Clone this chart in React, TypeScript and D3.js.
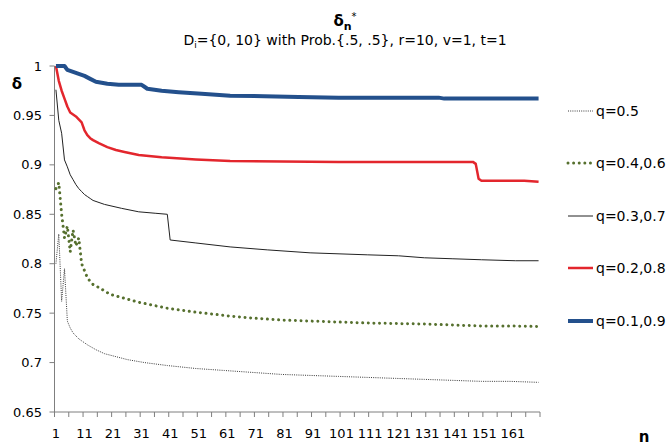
import React from "react";
import * as d3 from "d3";

// ---- data ----
const categoryCount = 170;
const xTickLabels = ["1", "11", "21", "31", "41", "51", "61", "71", "81", "91", "101", "111", "121", "131", "141", "151", "161"];
const yTickValues = [0.65, 0.7, 0.75, 0.8, 0.85, 0.9, 0.95, 1];
const yTickLabels = ["0.65", "0.7", "0.75", "0.8", "0.85", "0.9", "0.95", "1"];
const seriesNames = ["q=0.5", "q=0.4,0.6", "q=0.3,0.7", "q=0.2,0.8", "q=0.1,0.9"];

// q=0.5
const nQ05 = [1, 2, 3, 4, 5, 6, 7, 8, 9, 10, 12, 15, 18, 22, 26, 32, 40, 50, 60, 70, 80, 90, 100, 110, 120, 130, 140, 150, 160, 170];
const vQ05 = [0.8, 0.83, 0.762, 0.795, 0.742, 0.735, 0.73, 0.727, 0.724, 0.722, 0.718, 0.713, 0.709, 0.706, 0.703, 0.7, 0.697, 0.694, 0.692, 0.69, 0.688, 0.687, 0.686, 0.685, 0.684, 0.683, 0.682, 0.681, 0.681, 0.68];
// q=0.4,0.6
const nQ46 = [1, 2, 3, 4, 5, 6, 7, 8, 9, 10, 11, 12, 13, 14, 16, 20, 25, 30, 35, 40, 45, 50, 56, 62, 70, 80, 90, 100, 110, 120, 130, 140, 150, 160, 170];
const vQ46 = [0.876, 0.882, 0.85, 0.826, 0.838, 0.812, 0.834, 0.818, 0.826, 0.8, 0.793, 0.786, 0.782, 0.779, 0.776, 0.769, 0.765, 0.761, 0.758, 0.755, 0.753, 0.751, 0.749, 0.747, 0.745, 0.743, 0.742, 0.741, 0.74, 0.7395, 0.739, 0.738, 0.737, 0.737, 0.7365];
// q=0.3,0.7
const nQ37 = [1, 2, 3, 4, 5, 6, 7, 8, 9, 10, 11, 12, 13, 14, 18, 24, 30, 36, 40, 41, 50, 62, 75, 90, 110, 121, 130, 140, 150, 162, 170];
const vQ37 = [0.976, 0.945, 0.932, 0.905, 0.898, 0.89, 0.885, 0.88, 0.876, 0.873, 0.87, 0.868, 0.866, 0.864, 0.86, 0.856, 0.8525, 0.851, 0.85, 0.824, 0.821, 0.817, 0.814, 0.811, 0.809, 0.808, 0.806, 0.805, 0.804, 0.803, 0.803];
// q=0.2,0.8
const nQ28 = [1, 2, 3, 4, 5, 6, 7, 8, 9, 10, 11, 12, 13, 14, 16, 19, 22, 25, 30, 38, 50, 62, 80, 100, 120, 147, 148, 149, 150, 165, 170];
const vQ28 = [1, 0.985, 0.975, 0.967, 0.959, 0.953, 0.951, 0.949, 0.946, 0.943, 0.935, 0.93, 0.927, 0.925, 0.922, 0.918, 0.915, 0.913, 0.91, 0.9076, 0.9055, 0.904, 0.9035, 0.903, 0.903, 0.903, 0.901, 0.886, 0.884, 0.884, 0.883];
// q=0.1,0.9
const nQ19 = [1, 2, 3, 4, 5, 7, 9, 11, 13, 15, 17, 19, 23, 31, 32, 33, 38, 44, 52, 62, 74, 86, 100, 135, 137, 170];
const vQ19 = [1, 1, 1, 1, 0.996, 0.994, 0.992, 0.99, 0.987, 0.984, 0.983, 0.982, 0.981, 0.981, 0.979, 0.977, 0.975, 0.9735, 0.972, 0.97, 0.9695, 0.9686, 0.968, 0.968, 0.967, 0.967];

const seriesN = [nQ05, nQ46, nQ37, nQ28, nQ19];
const seriesV = [vQ05, vQ46, vQ37, vQ28, vQ19];

// ---- styles ----
const styles = [
  { stroke: "#3a3a3a", width: 1, dash: "1 1.2", cap: "butt" },
  { stroke: "#56702e", width: 3, dash: "0.01 5.6", cap: "round" },
  { stroke: "#222222", width: 1, dash: null, cap: "butt" },
  { stroke: "#e3262d", width: 2.5, dash: null, cap: "butt" },
  { stroke: "#23508c", width: 4, dash: null, cap: "butt" },
];

const W = 670;
const H = 445;
const plotLeft = 54.5;
const plotRight = 540;
const plotTop = 66;
const plotBottom = 412;
const FONT = "'DejaVu Sans', Verdana, sans-serif";

export default function App() {
  const x = d3.scaleLinear().domain([0.5, categoryCount + 0.5]).range([plotLeft, plotRight]);
  const y = d3.scaleLinear().domain([0.65, 1]).range([plotBottom, plotTop]);
  const line = d3
    .line<[number, number]>()
    .x((d) => x(d[0]))
    .y((d) => y(d[1]))
    .curve(d3.curveLinear);

  const tickBounds = d3.range(0, categoryCount + 1, 5).map((b) => b + 0.5);
  const legendY = [111, 163, 216, 268, 321];

  return (
    <svg width={W} height={H} style={{ position: "absolute", left: 0, top: 0, background: "#fff" }} fontFamily={FONT}>
      <rect width={W} height={H} fill="#fff" />
      {/* title */}
      <text x={345} y={26} textAnchor="middle" fontSize={15} fontWeight="bold" fill="#000">
        δ<tspan fontSize={11} dy={4}>n</tspan>
        <tspan fontSize={10} dy={-10} fontWeight="normal">*</tspan>
      </text>
      <text x={345} y={45} textAnchor="middle" fontSize={14} fill="#000">
        D<tspan fontSize={9} dy={3}>i</tspan>
        <tspan dy={-3}>={"{"}0, 10{"}"} with Prob.{"{"}.5, .5{"}"}, r=10, v=1, t=1</tspan>
      </text>

      {/* y axis */}
      <line x1={plotLeft} x2={plotLeft} y1={plotTop} y2={plotBottom} stroke="#7f7f7f" strokeWidth={1} />
      {yTickValues.map((v, i) => (
        <g key={"yt" + i}>
          <line x1={plotLeft - 5} x2={plotLeft} y1={y(v)} y2={y(v)} stroke="#7f7f7f" />
          <text x={42} y={y(v) + 4.5} textAnchor="end" fontSize={13} fill="#000">
            {yTickLabels[i]}
          </text>
        </g>
      ))}
      <text x={17} y={89} textAnchor="middle" fontSize={15} fontWeight="bold" fill="#000">
        δ
      </text>

      {/* x axis */}
      <line x1={plotLeft} x2={plotRight} y1={plotBottom} y2={plotBottom} stroke="#7f7f7f" />
      {tickBounds.map((b, i) => (
        <line key={"xt" + i} x1={x(b)} x2={x(b)} y1={plotBottom} y2={plotBottom + 5} stroke="#7f7f7f" />
      ))}
      {xTickLabels.map((lab, i) => (
        <text key={"xl" + i} x={x(+lab)} y={438} textAnchor="middle" fontSize={13} fill="#000">
          {lab}
        </text>
      ))}
      <text x={644} y={442} textAnchor="middle" fontSize={15} fontWeight="bold" fill="#000">
        n
      </text>

      {/* series */}
      {seriesN.map((ns, si) => {
        const pts: [number, number][] = ns.map((n, j) => [n, seriesV[si][j]]);
        const s = styles[si];
        return (
          <path
            key={"s" + si}
            d={line(pts) || ""}
            fill="none"
            stroke={s.stroke}
            strokeWidth={s.width}
            strokeDasharray={s.dash || undefined}
            strokeLinecap={s.cap as any}
            strokeLinejoin="round"
          />
        );
      })}

      {/* legend */}
      {seriesNames.map((name, i) => {
        const s = styles[i];
        return (
          <g key={"lg" + i}>
            <line
              x1={568}
              x2={593}
              y1={legendY[i]}
              y2={legendY[i]}
              stroke={s.stroke}
              strokeWidth={s.width}
              strokeDasharray={s.dash || undefined}
              strokeLinecap={s.cap as any}
            />
            <text x={596} y={legendY[i] + 5} fontSize={14} fill="#000">
              {name}
            </text>
          </g>
        );
      })}
    </svg>
  );
}
